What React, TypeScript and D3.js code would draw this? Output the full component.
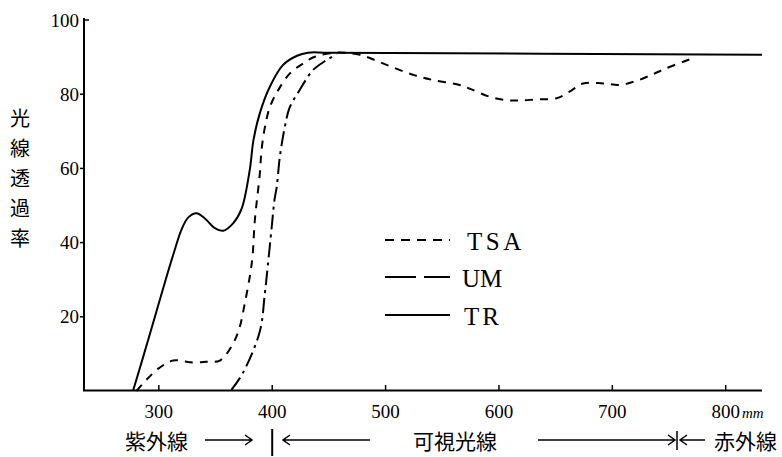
import React from 'react';
import * as d3 from 'd3';

// wavelength (nm) and transmittance (%)
const trW = [277.4, 286, 297, 307, 314, 320, 326, 333.3, 340.6, 349.4, 356.7, 365.5, 372.9, 380.2, 383.5, 389.1, 397.9, 409.6, 421.4, 431.6, 450, 832];
const trV = [0.2, 9, 20.5, 31, 38, 43.5, 46.8, 47.9, 46.5, 43.9, 43.2, 45.2, 49, 59.6, 67.7, 74.9, 82, 87.9, 90.3, 91.2, 91.2, 90.6];

const tsaW = [280.3, 289, 300.8, 312.6, 330.2, 342, 353.8, 365.5, 371.4, 375.8, 380.2, 382.6, 384.7, 389.1, 390.6, 393.6, 398, 405.3, 415.6, 427.4, 437.6, 456.7, 477.4, 500.9, 524.4, 542, 565.4, 575.7, 591.9, 606.6, 618.3, 633.1, 650.7, 662.3, 674.2, 691.8, 706.5, 721.3, 735.9, 747.6, 768.3];
const tsaV = [0, 3, 6.3, 8.2, 7.7, 7.9, 8.2, 12.8, 17.3, 23.6, 30.8, 36.2, 46.1, 58.7, 65, 71.2, 76.6, 81.1, 85.6, 88.3, 90.1, 91.2, 90.6, 87.9, 85.2, 83.8, 82.5, 81.3, 79.3, 78.4, 78.3, 78.6, 78.9, 80.7, 82.9, 82.9, 82.5, 83.6, 85.4, 87, 89.4];

const umW = [364, 374, 389, 393.5, 396, 399.5, 402, 404, 406.7, 411, 415.5, 424, 436, 448, 457];
const umV = [0.3, 4.8, 16, 26.3, 33.4, 44, 51.5, 55, 63, 71, 76.5, 81, 86.5, 89.2, 90.8];

const xTicks = [300, 400, 500, 600, 700, 800];
const yTicks = [20, 40, 60, 80, 100];
const yTitle = ['光', '線', '透', '過', '率'];
const legendItems = ['TSA', 'UM', 'TR'];

const serif = '"Liberation Serif", "DejaVu Serif", serif';
const cjk = '"Noto Sans CJK JP", "Noto Sans CJK SC", sans-serif';

export default function App() {
  const x = d3.scaleLinear().domain([234, 832]).range([84, 762]);
  const y = d3.scaleLinear().domain([0, 100]).range([391, 20]);
  const line = d3
    .line<[number, number]>()
    .x((d) => x(d[0]))
    .y((d) => y(d[1]))
    .curve(d3.curveCatmullRom.alpha(0.5));
  const zip = (a: number[], b: number[]) => a.map((v, i) => [v, b[i]] as [number, number]);

  const series = [
    { name: 'TSA', d: line(zip(tsaW, tsaV)), dash: '8,7', legendDash: '9,7' },
    { name: 'UM', d: line(zip(umW, umV)), dash: '15,5,3,5', legendDash: '31,8' },
    { name: 'TR', d: line(zip(trW, trV)), dash: undefined, legendDash: undefined },
  ];

  const legendY = [240, 277, 315];
  const legendText = [
    { x: 467, ls: 3.5 },
    { x: 462, ls: 0 },
    { x: 464, ls: 3 },
  ];

  const rowY = 440;
  const arrowR = (x1: number, x2: number) => `M${x1},${rowY}H${x2} M${x2 - 7},${rowY - 5}L${x2},${rowY}L${x2 - 7},${rowY + 5}`;
  const arrowL = (x1: number, x2: number) => `M${x2},${rowY}H${x1} M${x1 + 7},${rowY - 5}L${x1},${rowY}L${x1 + 7},${rowY + 5}`;

  return (
    <svg
      width={782}
      height={457}
      viewBox="0 0 782 457"
      style={{ position: 'absolute', left: 0, top: 0, background: '#fff' }}
    >
      <rect x={0} y={0} width={782} height={457} fill="#fff" />
      {/* axes */}
      <line x1={84} y1={18} x2={84} y2={391} stroke="#000" strokeWidth={2} />
      <line x1={83} y1={390.5} x2={762} y2={390.5} stroke="#000" strokeWidth={2} />
      {yTicks.map((t) => (
        <g key={t}>
          <line
            x1={t === 100 ? 84 : 80}
            x2={t === 100 ? 89 : 84}
            y1={y(t)}
            y2={y(t)}
            stroke="#000"
            strokeWidth={1.5}
          />
          <text x={79} y={y(t) + 6.5} textAnchor="end" fontFamily={serif} fontSize={19} fill="#000">
            {t}
          </text>
        </g>
      ))}
      {xTicks.map((t) => (
        <g key={t}>
          <line x1={x(t)} x2={x(t)} y1={390} y2={385} stroke="#000" strokeWidth={1.5} />
          <text x={x(t)} y={418} textAnchor="middle" fontFamily={serif} fontSize={19} fill="#000">
            {t}
          </text>
        </g>
      ))}
      <text x={742} y={418} fontFamily={serif} fontStyle="italic" fontSize={15} fill="#000">
        mm
      </text>
      {/* y title */}
      {yTitle.map((c, i) => (
        <text
          key={c}
          x={20}
          y={117 + i * 30}
          textAnchor="middle"
          dominantBaseline="central"
          fontFamily={cjk}
          fontSize={20}
          fill="#000"
        >
          {c}
        </text>
      ))}
      {/* curves */}
      {series.map((s) => (
        <path
          key={s.name}
          d={s.d || ''}
          fill="none"
          stroke="#000"
          strokeWidth={2}
          strokeDasharray={s.dash}
        />
      ))}
      {/* legend */}
      {series.map((s, i) => (
        <g key={'lg' + s.name}>
          <line
            x1={385}
            x2={450}
            y1={legendY[i]}
            y2={legendY[i]}
            stroke="#000"
            strokeWidth={2}
            strokeDasharray={s.legendDash}
          />
          <text
            x={legendText[i].x}
            y={legendY[i] + 10}
            fontFamily={serif}
            fontSize={25}
            letterSpacing={legendText[i].ls}
            fill="#000"
          >
            {legendItems[i]}
          </text>
        </g>
      ))}
      {/* bottom region labels */}
      <text x={125} y={rowY} dominantBaseline="central" fontFamily={cjk} fontSize={21} fill="#000">
        紫外線
      </text>
      <path d={arrowR(205, 252)} fill="none" stroke="#000" strokeWidth={1.5} />
      <line x1={x(400)} x2={x(400)} y1={429} y2={456} stroke="#000" strokeWidth={2} />
      <path d={arrowL(283, 370)} fill="none" stroke="#000" strokeWidth={1.5} />
      <text x={413} y={rowY} dominantBaseline="central" fontFamily={cjk} fontSize={21} fill="#000">
        可視光線
      </text>
      <path d={arrowR(538, 675)} fill="none" stroke="#000" strokeWidth={1.5} />
      <line x1={677} x2={677} y1={431} y2={450} stroke="#000" strokeWidth={1.5} />
      <path d={arrowL(680, 705)} fill="none" stroke="#000" strokeWidth={1.5} />
      <text x={714} y={rowY} dominantBaseline="central" fontFamily={cjk} fontSize={21} fill="#000">
        赤外線
      </text>
    </svg>
  );
}
